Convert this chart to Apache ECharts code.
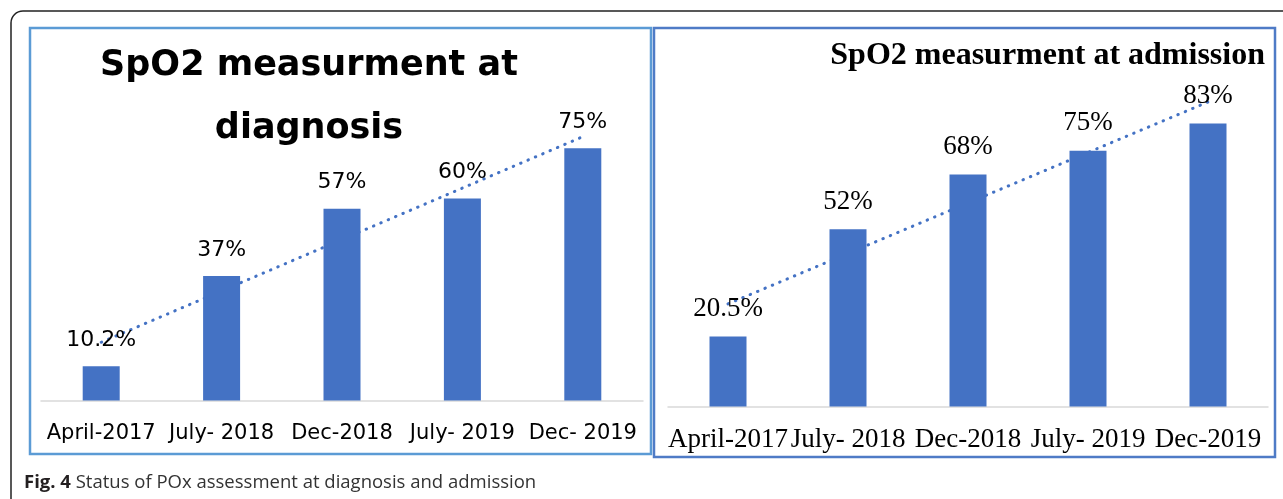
<!DOCTYPE html>
<html>
<head>
<meta charset="utf-8">
<title>SpO2 measurement</title>
<script src="https://cdn.jsdelivr.net/npm/echarts@6/dist/echarts.min.js"></script>
<style>
  html, body { margin: 0; padding: 0; background: #fff; }
  #chart { width: 1283px; height: 499px; }
</style>
</head>
<body>
<div id="chart"></div>
<script>
// data
const periodsDiagnosis = ['April-2017', 'July- 2018', 'Dec-2018', 'July- 2019', 'Dec- 2019'];
const periodsAdmission = ['April-2017', 'July- 2018', 'Dec-2018', 'July- 2019', 'Dec-2019'];
const spo2Diagnosis = [10.2, 37, 57, 60, 75];
const spo2Admission = [20.5, 52, 68, 75, 83];
// dotted trendline ends (first and last category), as drawn in the figure
const trendDiagnosis = [17.3, 78.4];
const trendAdmission = [30.1, 89.3];

const blue = '#4472C4';
const chart = echarts.init(document.getElementById('chart'));

function trendData(cats, ends) {
  return [[cats[0], ends[0]], [cats[cats.length - 1], ends[1]]];
}

const trendStyle = {
  color: blue,
  width: 3,
  type: [0.5, 7.5],
  cap: 'round'
};

chart.setOption({
  backgroundColor: '#fff',
  animation: false,
  title: [
    {
      text: 'SpO2 measurment at\ndiagnosis',
      left: 309,
      top: 34,
      padding: 0,
      textAlign: 'center',
      textStyle: {
        fontFamily: 'DejaVu Sans',
        fontWeight: 'bold',
        fontSize: 35,
        lineHeight: 63,
        color: '#000'
      }
    },
    {
      text: 'SpO2 measurment at admission',
      right: 18,
      top: 40,
      padding: 0,
      textStyle: {
        fontFamily: 'Liberation Serif',
        fontWeight: 'bold',
        fontSize: 32,
        color: '#000'
      }
    }
  ],
  grid: [
    { left: 41, right: 640, top: 64, bottom: 98.5 },
    { left: 668, right: 15, top: 65.5, bottom: 92.5 }
  ],
  xAxis: [
    {
      type: 'category', gridIndex: 0, data: periodsDiagnosis,
      axisTick: { show: false },
      axisLine: { lineStyle: { color: '#d9d9d9', width: 1.5 } },
      axisLabel: { interval: 0, margin: 23, color: '#000', fontFamily: 'DejaVu Sans', fontSize: 21 }
    },
    {
      type: 'category', gridIndex: 1, data: periodsAdmission,
      axisTick: { show: false },
      axisLine: { lineStyle: { color: '#d9d9d9', width: 1.5 } },
      axisLabel: { interval: 0, margin: 20, color: '#000', fontFamily: 'Liberation Serif', fontSize: 27 }
    }
  ],
  yAxis: [
    { type: 'value', gridIndex: 0, min: 0, max: 100, show: false, splitLine: { show: false } },
    { type: 'value', gridIndex: 1, min: 0, max: 100, show: false, splitLine: { show: false } }
  ],
  series: [
    {
      type: 'line', xAxisIndex: 0, yAxisIndex: 0, z: 1,
      data: trendData(periodsDiagnosis, trendDiagnosis),
      symbol: 'none', lineStyle: trendStyle, silent: true
    },
    {
      type: 'bar', xAxisIndex: 0, yAxisIndex: 0, z: 2,
      data: spo2Diagnosis, barWidth: 37,
      itemStyle: { color: blue },
      label: {
        show: true, position: 'top', distance: 15, formatter: '{c}%',
        color: '#000', fontFamily: 'DejaVu Sans', fontSize: 22
      }
    },
    {
      type: 'line', xAxisIndex: 1, yAxisIndex: 1, z: 1,
      data: trendData(periodsAdmission, trendAdmission),
      symbol: 'none', lineStyle: trendStyle, silent: true
    },
    {
      type: 'bar', xAxisIndex: 1, yAxisIndex: 1, z: 2,
      data: spo2Admission, barWidth: 37,
      itemStyle: { color: blue },
      label: {
        show: true, position: 'top', distance: 14, formatter: '{c}%',
        color: '#000', fontFamily: 'Liberation Serif', fontSize: 27
      }
    }
  ],
  graphic: [
    {
      type: 'rect', z: 0,
      shape: { x: 11, y: 11, width: 1290, height: 500, r: 12 },
      style: { fill: 'none', stroke: '#222', lineWidth: 1.5 }
    },
    {
      type: 'rect', z: 0,
      shape: { x: 30, y: 28, width: 621, height: 426 },
      style: { fill: 'none', stroke: '#5B9BD5', lineWidth: 2.5 }
    },
    {
      type: 'rect', z: 0,
      shape: { x: 654, y: 28, width: 621, height: 429 },
      style: { fill: 'none', stroke: '#4F7BC6', lineWidth: 2.5 }
    },
    {
      type: 'text', left: 24, top: 473,
      style: {
        text: '{b|Fig. 4} Status of POx assessment at diagnosis and admission',
        fontFamily: 'Open Sans', fontSize: 18.5, fill: '#333',
        rich: {
          b: { fontFamily: 'Open Sans', fontWeight: 'bold', fontSize: 18.5, fill: '#231f20' }
        }
      }
    }
  ]
});
</script>
</body>
</html>
